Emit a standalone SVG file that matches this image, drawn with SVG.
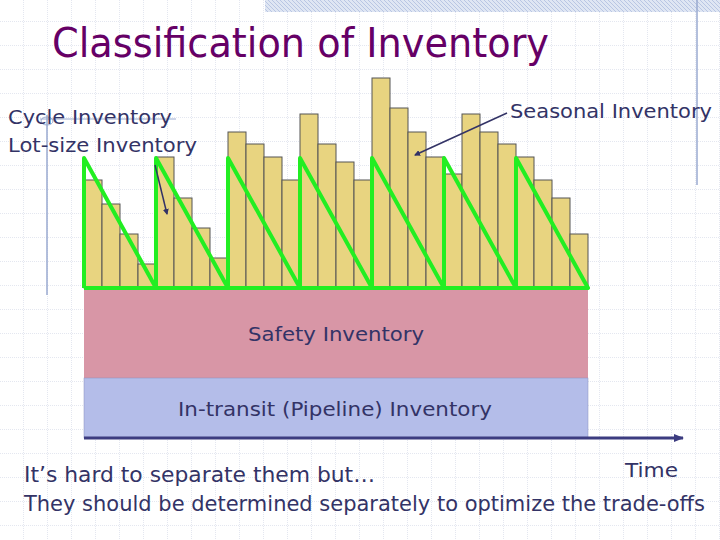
<svg xmlns="http://www.w3.org/2000/svg" width="720" height="540" viewBox="0 0 720 540">
<defs>
<pattern id="grid" width="24" height="24" patternUnits="userSpaceOnUse" x="0" y="-2">
<path d="M24 0V24M0 24H24" fill="none" stroke="#c8cfe0" stroke-width="1" stroke-dasharray="1,1"/>
</pattern>
<pattern id="hatch" width="4" height="4" patternUnits="userSpaceOnUse">
<rect width="4" height="4" fill="#dfe6f3"/><path d="M0 0L4 4" stroke="#b9c6e3" stroke-width="1"/>
</pattern>
<marker id="ah" markerWidth="6" markerHeight="6" refX="5" refY="3" orient="auto" markerUnits="userSpaceOnUse">
<path d="M0 0L6 3L0 6z" fill="#333366"/>
</marker>
<marker id="axh" markerWidth="10" markerHeight="8" refX="9" refY="4" orient="auto" markerUnits="userSpaceOnUse">
<path d="M0 0L10 4L0 8z" fill="#3c3c80"/>
</marker>
</defs>
<style>
text{font-family:"DejaVu Sans",Verdana,sans-serif;fill:#333366}
.bar{fill:#e8d480;stroke:#555;stroke-width:1}
.saw{fill:none;stroke:#22ee22;stroke-width:4;stroke-linejoin:round}
</style>
<rect width="720" height="540" fill="#ffffff"/>
<rect width="720" height="540" fill="url(#grid)"/>
<rect x="265" y="0" width="455" height="12" fill="url(#hatch)"/>
<line x1="697" y1="0" x2="697" y2="185" stroke="#9aaad0" stroke-width="1.5"/>
<line x1="47" y1="115" x2="47" y2="295" stroke="#9aaad0" stroke-width="1.5"/>
<line x1="40" y1="119" x2="176" y2="119" stroke="#9aaad0" stroke-width="1"/>
<ellipse cx="47" cy="121" rx="6" ry="4" fill="none" stroke="#9aaad0"/>
<text x="52" y="57" font-size="40" fill="#660066" style="fill:#660066" textLength="497" lengthAdjust="spacingAndGlyphs">Classification of Inventory</text>
<g id="layers">
<rect x="84" y="288" width="504" height="90" fill="#d896a6"/>
<rect x="84" y="378" width="504" height="60" fill="#b4bde9" stroke="#8890c0" stroke-width="0.5"/>
</g>
<g id="bars">
<rect class="bar" x="84" y="180" width="18" height="108"/>
<rect class="bar" x="102" y="204" width="18" height="84"/>
<rect class="bar" x="120" y="234" width="18" height="54"/>
<rect class="bar" x="138" y="264" width="18" height="24"/>
<rect class="bar" x="156" y="157" width="18" height="131"/>
<rect class="bar" x="174" y="198" width="18" height="90"/>
<rect class="bar" x="192" y="228" width="18" height="60"/>
<rect class="bar" x="210" y="258" width="18" height="30"/>
<rect class="bar" x="228" y="132" width="18" height="156"/>
<rect class="bar" x="246" y="144" width="18" height="144"/>
<rect class="bar" x="264" y="157" width="18" height="131"/>
<rect class="bar" x="282" y="180" width="18" height="108"/>
<rect class="bar" x="300" y="114" width="18" height="174"/>
<rect class="bar" x="318" y="144" width="18" height="144"/>
<rect class="bar" x="336" y="162" width="18" height="126"/>
<rect class="bar" x="354" y="180" width="18" height="108"/>
<rect class="bar" x="372" y="78" width="18" height="210"/>
<rect class="bar" x="390" y="108" width="18" height="180"/>
<rect class="bar" x="408" y="132" width="18" height="156"/>
<rect class="bar" x="426" y="157" width="18" height="131"/>
<rect class="bar" x="444" y="174" width="18" height="114"/>
<rect class="bar" x="462" y="114" width="18" height="174"/>
<rect class="bar" x="480" y="132" width="18" height="156"/>
<rect class="bar" x="498" y="144" width="18" height="144"/>
<rect class="bar" x="516" y="157" width="18" height="131"/>
<rect class="bar" x="534" y="180" width="18" height="108"/>
<rect class="bar" x="552" y="198" width="18" height="90"/>
<rect class="bar" x="570" y="234" width="18" height="54"/>
</g>
<g id="connectors">
<path class="saw" d="M84 288V158L156 288V158L228 288V158L300 288V158L372 288V158L444 288V158L516 288V158L588 288H84"/>
<line x1="84" y1="438" x2="683" y2="438" stroke="#3c3c80" stroke-width="3" marker-end="url(#axh)"/>
<line x1="155" y1="165" x2="167" y2="214" stroke="#333366" stroke-width="1.5" marker-end="url(#ah)"/>
<line x1="507" y1="113" x2="415" y2="155" stroke="#333366" stroke-width="1.5" marker-end="url(#ah)"/>
</g>
<g id="labels" font-size="20">
<text x="8" y="124" textLength="164" lengthAdjust="spacingAndGlyphs">Cycle Inventory</text>
<text x="8" y="152" textLength="189" lengthAdjust="spacingAndGlyphs">Lot-size Inventory</text>
<text x="510" y="118" textLength="202" lengthAdjust="spacingAndGlyphs">Seasonal Inventory</text>
<text x="248" y="341" textLength="176" lengthAdjust="spacingAndGlyphs">Safety Inventory</text>
<text x="178" y="416" textLength="314" lengthAdjust="spacingAndGlyphs">In-transit (Pipeline) Inventory</text>
<text x="625" y="477" textLength="53" lengthAdjust="spacingAndGlyphs">Time</text>
<text x="24" y="482" font-size="21" textLength="351" lengthAdjust="spacingAndGlyphs">It’s hard to separate them but…</text>
<text x="24" y="511" font-size="21" textLength="681" lengthAdjust="spacingAndGlyphs">They should be determined separately to optimize the trade-offs</text>
</g>
</svg>
